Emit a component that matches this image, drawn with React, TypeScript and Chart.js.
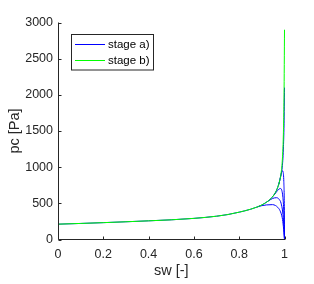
import React, { useEffect, useRef } from "react";
import { Chart, registerables } from "chart.js";

Chart.register(...registerables);

const seriesLabels = ["stage a)", "stage b)"];
const seriesColors = ["#0000ff", "#00ff00"];
const xTitle = "sw [-]";
const yTitle = "pc [Pa]";
const xTickValues = [0, 0.2, 0.4, 0.6, 0.8, 1];
const yTickValues = [0, 500, 1000, 1500, 2000, 2500, 3000];

// stage b) main curve
const swB = [0, 0.1, 0.2, 0.3, 0.4, 0.5, 0.6, 0.7, 0.75, 0.8, 0.85, 0.88, 0.9, 0.92, 0.94, 0.96, 0.97, 0.98, 0.985, 0.99, 0.995, 0.998, 1];
const pcB = [212, 222, 233, 245, 258, 272, 292, 322, 345, 378, 418, 450, 478, 515, 565, 650, 720, 830, 920, 1080, 1450, 2000, 2900];

// stage a) main curve
const swA = [0, 0.1, 0.2, 0.3, 0.4, 0.5, 0.6, 0.7, 0.75, 0.8, 0.85, 0.88, 0.9, 0.92, 0.94, 0.96, 0.97, 0.98, 0.985, 0.99, 0.995, 0.998, 1];
const pcA = [212, 222, 233, 245, 258, 272, 292, 322, 345, 378, 418, 450, 478, 515, 565, 650, 720, 830, 900, 1000, 1250, 1600, 2100];

// stage a) scanning curves
const swScan1 = [0.975, 0.985, 0.99, 0.994, 0.997, 0.999, 1];
const pcScan1 = [760, 900, 950, 930, 800, 500, 0];
const swScan2 = [0.95, 0.965, 0.975, 0.982, 0.988, 0.993, 0.997, 1];
const pcScan2 = [600, 660, 695, 705, 680, 580, 380, 0];
const swScan3 = [0.92, 0.94, 0.955, 0.965, 0.975, 0.985, 0.992, 0.997, 1];
const pcScan3 = [515, 555, 575, 578, 560, 500, 380, 200, 0];
const swScan4 = [0.88, 0.9, 0.92, 0.947, 0.96, 0.97, 0.98, 0.99, 0.995, 1];
const pcScan4 = [450, 468, 478, 482, 470, 445, 400, 300, 180, 0];

const FONT = "'Liberation Sans', Arial, Helvetica, sans-serif";
const AX = "#262626";

const pts = (xs: number[], ys: number[]) => xs.map((x, i) => ({ x, y: ys[i] }));

const matlabPlugin = {
  id: "matlabDecor",
  afterDraw(chart: any) {
    const { ctx, chartArea: a, scales } = chart;
    const xs = scales.x;
    const ys = scales.y;
    ctx.save();
    ctx.strokeStyle = AX;
    ctx.lineWidth = 1;
    const bx = Math.round(a.left) + 0.5;
    const by = Math.floor(a.bottom) + 0.5;
    ctx.beginPath();
    ctx.moveTo(bx, a.top);
    ctx.lineTo(bx, by);
    ctx.lineTo(a.right + 0.5, by);
    // inward ticks
    xTickValues.forEach((v) => {
      const px = Math.round(xs.getPixelForValue(v)) + 0.5;
      ctx.moveTo(px, by);
      ctx.lineTo(px, by - 3);
    });
    yTickValues.forEach((v) => {
      const py = Math.round(ys.getPixelForValue(v)) + 0.5;
      ctx.moveTo(bx, py);
      ctx.lineTo(bx + 3, py);
    });
    ctx.stroke();

    // axis titles
    ctx.fillStyle = AX;
    ctx.font = `14.5px ${FONT}`;
    ctx.textAlign = "center";
    ctx.textBaseline = "alphabetic";
    ctx.fillText(xTitle, (a.left + a.right) / 2, 275);
    ctx.save();
    ctx.translate(19, (a.top + a.bottom) / 2);
    ctx.rotate(-Math.PI / 2);
    ctx.fillText(yTitle, 0, 0);
    ctx.restore();

    // legend
    const lx = 71.5, ly = 34.5, lw = 82, lh = 35.5;
    ctx.fillStyle = "#ffffff";
    ctx.fillRect(lx, ly, lw, lh);
    ctx.strokeStyle = AX;
    ctx.strokeRect(lx, ly, lw, lh);
    const rows = [44.5, 60.5];
    ctx.font = `11.5px ${FONT}`;
    ctx.textAlign = "left";
    ctx.textBaseline = "middle";
    seriesLabels.forEach((lab, i) => {
      ctx.strokeStyle = seriesColors[i];
      ctx.beginPath();
      ctx.moveTo(75, rows[i]);
      ctx.lineTo(105, rows[i]);
      ctx.stroke();
      ctx.fillStyle = "#000000";
      ctx.fillText(lab, 108, rows[i] + 0.5);
    });
    ctx.restore();
  },
};

export default function App() {
  const ref = useRef<HTMLCanvasElement | null>(null);
  useEffect(() => {
    document.body.style.margin = "0";
    if (!ref.current) return;
    const line = (data: any, color: string, order: number) => ({
      data,
      borderColor: color,
      borderWidth: 1,
      pointRadius: 0,
      showLine: true,
      fill: false,
      cubicInterpolationMode: "monotone" as const,
      clip: 3,
      order,
    });
    const chart = new Chart(ref.current, {
      type: "scatter",
      data: {
        datasets: [
          { label: seriesLabels[0], ...line(pts(swA, pcA), seriesColors[0], 2) },
          { label: seriesLabels[0], ...line(pts(swScan1, pcScan1), seriesColors[0], 2) },
          { label: seriesLabels[0], ...line(pts(swScan2, pcScan2), seriesColors[0], 2) },
          { label: seriesLabels[0], ...line(pts(swScan3, pcScan3), seriesColors[0], 2) },
          { label: seriesLabels[0], ...line(pts(swScan4, pcScan4), seriesColors[0], 2) },
          { label: seriesLabels[1], ...line(pts(swB, pcB), seriesColors[1], 1) },
        ],
      },
      options: {
        animation: false,
        responsive: false,
        layout: { padding: { left: 0, top: 22.5, right: 29.5, bottom: 0 } },
        plugins: { legend: { display: false }, tooltip: { enabled: false } },
        scales: {
          x: {
            type: "linear",
            min: 0,
            max: 1,
            grid: { display: false, drawTicks: false },
            border: { display: false },
            ticks: {
              stepSize: 0.2,
              padding: 8,
              color: AX,
              font: { family: FONT, size: 12.5, lineHeight: 1.2 },
              callback: (v: any) => String(Math.round(Number(v) * 10) / 10),
              maxRotation: 0,
              autoSkip: false,
            },
            afterFit: (s: any) => {
              s.height = 44.5;
            },
          },
          y: {
            type: "linear",
            min: 0,
            max: 3000,
            grid: { display: false, drawTicks: false },
            border: { display: false },
            ticks: {
              stepSize: 500,
              padding: 5,
              color: AX,
              font: { family: FONT, size: 12.5, lineHeight: 1.2 },
              callback: (v: any) => String(v),
              autoSkip: false,
            },
            afterFit: (s: any) => {
              s.width = 58;
            },
          },
        },
      },
      plugins: [matlabPlugin],
    });
    return () => chart.destroy();
  }, []);
  return (
    <div style={{ width: 314, height: 284 }}>
      <canvas ref={ref} width={314} height={284} style={{ display: "block" }} />
    </div>
  );
}
